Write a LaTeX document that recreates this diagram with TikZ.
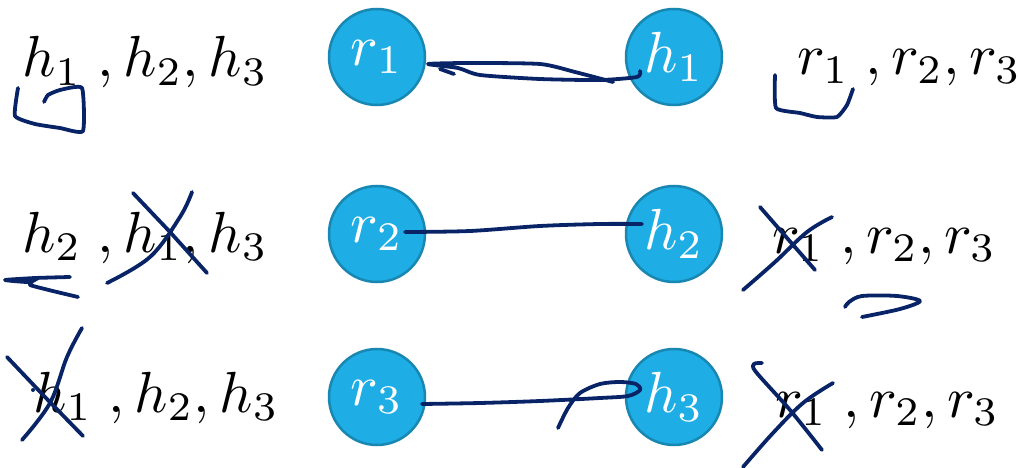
\documentclass[tikz,border=0pt]{standalone}
\usepackage{amsmath}
\definecolor{nodefill}{RGB}{30,173,228}
\definecolor{nodeline}{RGB}{24,135,178}
\definecolor{ink}{RGB}{8,36,102}
\newcommand{\mybigmath}[1]{\scalebox{5.8}{$#1$}}
\tikzset{
  circ/.style={circle, fill=nodefill, draw=nodeline, line width=2.5pt, minimum size=96pt, inner sep=0pt, text=white},
  lbl/.style={anchor=base west, inner sep=0pt},
  pen/.style={draw=ink, line width=3.8pt, line cap=round, line join=round},
}
\begin{document}
\begin{tikzpicture}[x=1pt,y=-1pt]
\useasboundingbox (0,0) rectangle (1018,468);
% circles
\node[circ] (r1) at (377,57) {\mybigmath{r_1}};
\node[circ] (h1) at (674,57) {\mybigmath{h_1}};
\node[circ] (r2) at (377,234) {\mybigmath{r_2}};
\node[circ] (h2) at (674,234) {\mybigmath{h_2}};
\node[circ] (r3) at (377,397) {\mybigmath{r_3}};
\node[circ] (h3) at (674,397) {\mybigmath{h_3}};
% text lists
\node[lbl] (L1) at (22,77) {\mybigmath{h_1\;,h_2,h_3}};
\node[lbl] (R1) at (797,75) {\mybigmath{r_1\;,r_2,r_3}};
\node[lbl] (L2) at (22,252) {\mybigmath{h_2\;,h_1,h_3}};
\node[lbl] (R2) at (772,253) {\mybigmath{r_1\;,r_2,r_3}};
\node[lbl] (L3) at (33,412) {\mybigmath{h_1\;,h_2,h_3}};
\node[lbl] (R3) at (775,417) {\mybigmath{r_1\;,r_2,r_3}};
% connectors
\draw[pen] plot[smooth, tension=0.4] coordinates {(613,82) (575,72) (540,64) (470,63) (428,64) (458,68) (480,75) (540,79) (600,80) (637,77) (640,71)};
\draw[pen] (440,69) -- (454,74);
\draw[pen] plot[smooth, tension=0.5] coordinates {(405,232) (470,231) (540,226) (600,224) (642,224)};
\draw[pen] plot[smooth, tension=0.5] coordinates {(422,404) (480,403) (540,401) (600,398) (628,396) (640,390) (636,384) (620,382) (600,384) (580,393) (568,408) (558,428)};
% row 1 brackets
\draw[pen] plot[smooth, tension=0.3] coordinates {(18,88) (15,116) (35,124) (60,128) (83,131) (82,88) (60,90) (48,95) (44,102)};
\draw[pen] plot[smooth, tension=0.3] coordinates {(775,75) (776,108) (800,113) (817,117) (837,117) (847,105) (853,89)};
% row 2 marks
\draw[pen] plot[smooth, tension=0.3] coordinates {(70,277) (35,278) (5,280) (28,282) (38,278) (30,285) (78,297)};
\draw[pen] (133,193) -- (170,232) -- (207,273);
\draw[pen] plot[smooth, tension=0.6] coordinates {(192,192) (180,217) (150,257) (107,283)};
\draw[pen] (760,207) -- (787,238) -- (815,270);
\draw[pen] plot[smooth, tension=0.6] coordinates {(832,217) (807,232) (775,262) (743,290)};
\draw[pen] plot[smooth, tension=0.5] coordinates {(845,307) (849,302) (862,296) (897,296) (920,301) (900,309) (862,317)};
% row 3 marks
\draw[pen] (7,357) -- (45,397) -- (83,436);
\draw[pen] plot[smooth, tension=0.6] coordinates {(82,328) (67,357) (50,403) (22,440)};
\fill[ink] (33,390) circle (2pt);
\draw[pen] plot[smooth, tension=0.5] coordinates {(762,363) (754,364) (756,372) (790,410) (822,450)};
\draw[pen] plot[smooth, tension=0.6] coordinates {(833,383) (803,403) (773,433) (743,467)};
\end{tikzpicture}
\end{document}
